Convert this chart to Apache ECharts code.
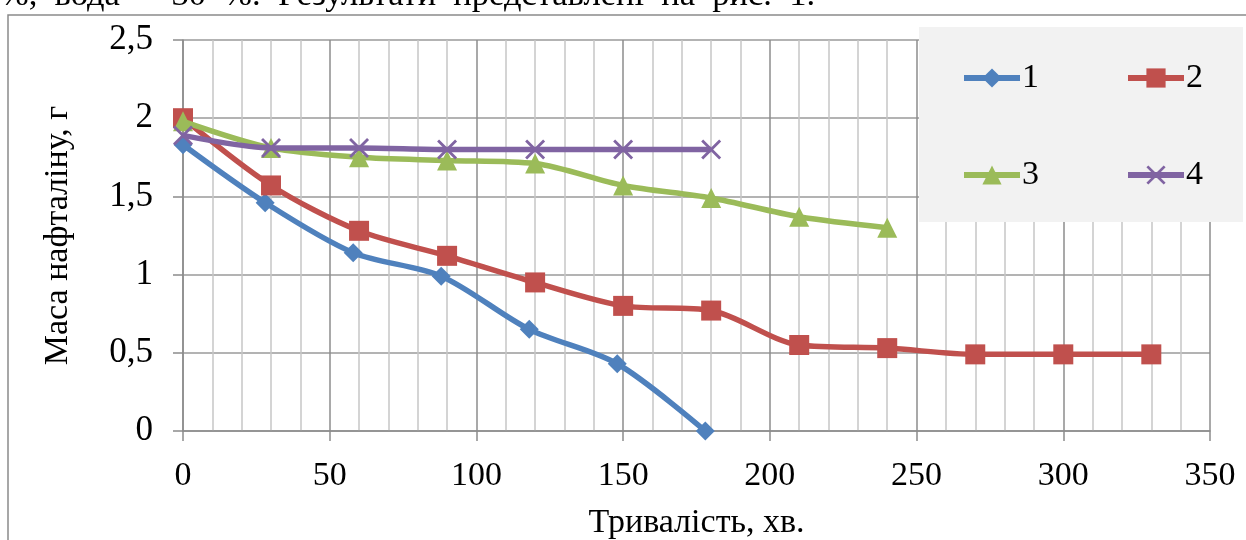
<!DOCTYPE html>
<html>
<head>
<meta charset="utf-8">
<script src="https://cdn.jsdelivr.net/npm/echarts@6/dist/echarts.min.js"></script>
<style>
  html, body { margin: 0; padding: 0; background: #fff; }
  #chart { width: 1246px; height: 540px; }
</style>
</head>
<body>
<div id="chart"></div>
<script>
// Naphthalene mass (g) over time (min) for four samples
const times1 = [0, 28, 58, 88, 118, 148, 178];
const mass1  = [1.83, 1.46, 1.14, 0.99, 0.65, 0.43, 0];

const times2 = [0, 30, 60, 90, 120, 150, 180, 210, 240, 270, 300, 330];
const mass2  = [2.0, 1.57, 1.28, 1.12, 0.95, 0.80, 0.77, 0.55, 0.53, 0.49, 0.49, 0.49];

const times3 = [0, 30, 60, 90, 120, 150, 180, 210, 240];
const mass3  = [1.98, 1.81, 1.75, 1.73, 1.71, 1.57, 1.49, 1.37, 1.30];

const times4 = [0, 30, 60, 90, 120, 150, 180];
const mass4  = [1.89, 1.81, 1.81, 1.80, 1.80, 1.80, 1.80];

const seriesNames = ['1', '2', '3', '4'];
const seriesColors = ['#4F81BD', '#C0504D', '#9BBB59', '#8064A2'];

const xTitle = 'Тривалість, хв.';
const yTitle = 'Маса нафталіну, г';
// justified body-text line above the figure (wider word spacing)
const captionLine = '%, вода – 30 %. Результати представлені на рис. 1.'.replace(/ /g, '\u2002');

const pairs = (xs, ys) => xs.map((x, i) => [x, ys[i]]);

const FONT = '"Liberation Serif", "Times New Roman", serif';
const crossPath = 'path://M0,1L1,0L5,4L9,0L10,1L6,5L10,9L9,10L5,6L1,10L0,9L4,5Z';

function lineSeries(idx, data, symbol, size) {
  return {
    name: seriesNames[idx],
    type: 'line',
    data: data,
    smooth: 0.3,
    symbol: symbol,
    symbolSize: size,
    showAllSymbol: true,
    z: 3 + idx,
    lineStyle: { width: 5.5, color: seriesColors[idx] },
    itemStyle: { color: seriesColors[idx], borderWidth: 0 },
    emphasis: { disabled: true }
  };
}

const chart = echarts.init(document.getElementById('chart'), null, { renderer: 'canvas' });

const legendCommon = {
  itemWidth: 56,
  itemHeight: 24,
  itemGap: 86,
  lineStyle: { width: 6 },
  textStyle: { fontFamily: FONT, fontSize: 34, color: '#000', padding: [0, 0, 0, -3] },
  selectedMode: false,
  z: 20,
  padding: 0
};

chart.setOption({
  animation: false,
  backgroundColor: '#fff',
  textStyle: { fontFamily: FONT },
  grid: { left: 183, right: 36, top: 40, bottom: 109, containLabel: false, outerBoundsMode: 'none' },
  legend: [
    Object.assign({ data: ['1', '2'], left: 961, top: 61 }, legendCommon),
    Object.assign({ data: ['3', '4'], left: 961, top: 158 }, legendCommon)
  ],
  graphic: [
    {
      type: 'rect', z: -10, silent: true,
      shape: { x: 8, y: 15, width: 1260, height: 600 },
      style: { fill: 'none', stroke: '#8a8a8a', lineWidth: 1.5 }
    },
    {
      type: 'rect', z: 15, silent: true,
      shape: { x: 919, y: 27, width: 324, height: 195 },
      style: { fill: '#F2F2F2' }
    },
    {
      type: 'text', z: 15, silent: true, left: 0, top: -22,
      style: { text: captionLine, font: '34.5px ' + FONT, fill: '#000' }
    }
  ],
  xAxis: {
    type: 'value',
    min: 0, max: 350, interval: 50,
    name: xTitle,
    nameLocation: 'middle',
    nameGap: 75,
    nameTextStyle: { fontFamily: FONT, fontSize: 34, color: '#000' },
    axisLine: { show: true, lineStyle: { color: '#8c8c8c', width: 1.5 } },
    axisTick: { show: true, inside: false, length: 10, lineStyle: { color: '#8c8c8c', width: 1.5 } },
    axisLabel: { margin: 28, fontFamily: FONT, fontSize: 34, color: '#000' },
    splitLine: { show: true, lineStyle: { color: '#8c8c8c', width: 1.5 } },
    minorTick: { show: false, splitNumber: 5 },
    minorSplitLine: { show: true, lineStyle: { color: '#c6c6c6', width: 1.5 } }
  },
  yAxis: {
    type: 'value',
    min: 0, max: 2.5, interval: 0.5,
    name: yTitle,
    nameLocation: 'middle',
    nameRotate: 90,
    nameGap: 108,
    nameTextStyle: { fontFamily: FONT, fontSize: 34, color: '#000' },
    axisLine: { show: true, lineStyle: { color: '#8c8c8c', width: 1.5 } },
    axisTick: { show: true, inside: false, length: 10, lineStyle: { color: '#8c8c8c', width: 1.5 } },
    axisLabel: {
      margin: 30, fontFamily: FONT, fontSize: 35, color: '#000',
      formatter: v => String(v).replace('.', ',')
    },
    splitLine: { show: true, lineStyle: { color: '#9a9a9a', width: 1.5 } }
  },
  series: [
    lineSeries(0, pairs(times1, mass1), 'diamond', 19),
    lineSeries(1, pairs(times2, mass2), 'rect', 20),
    lineSeries(2, pairs(times3, mass3), 'triangle', 20),
    lineSeries(3, pairs(times4, mass4), crossPath, 20)
  ]
});
</script>
</body>
</html>
